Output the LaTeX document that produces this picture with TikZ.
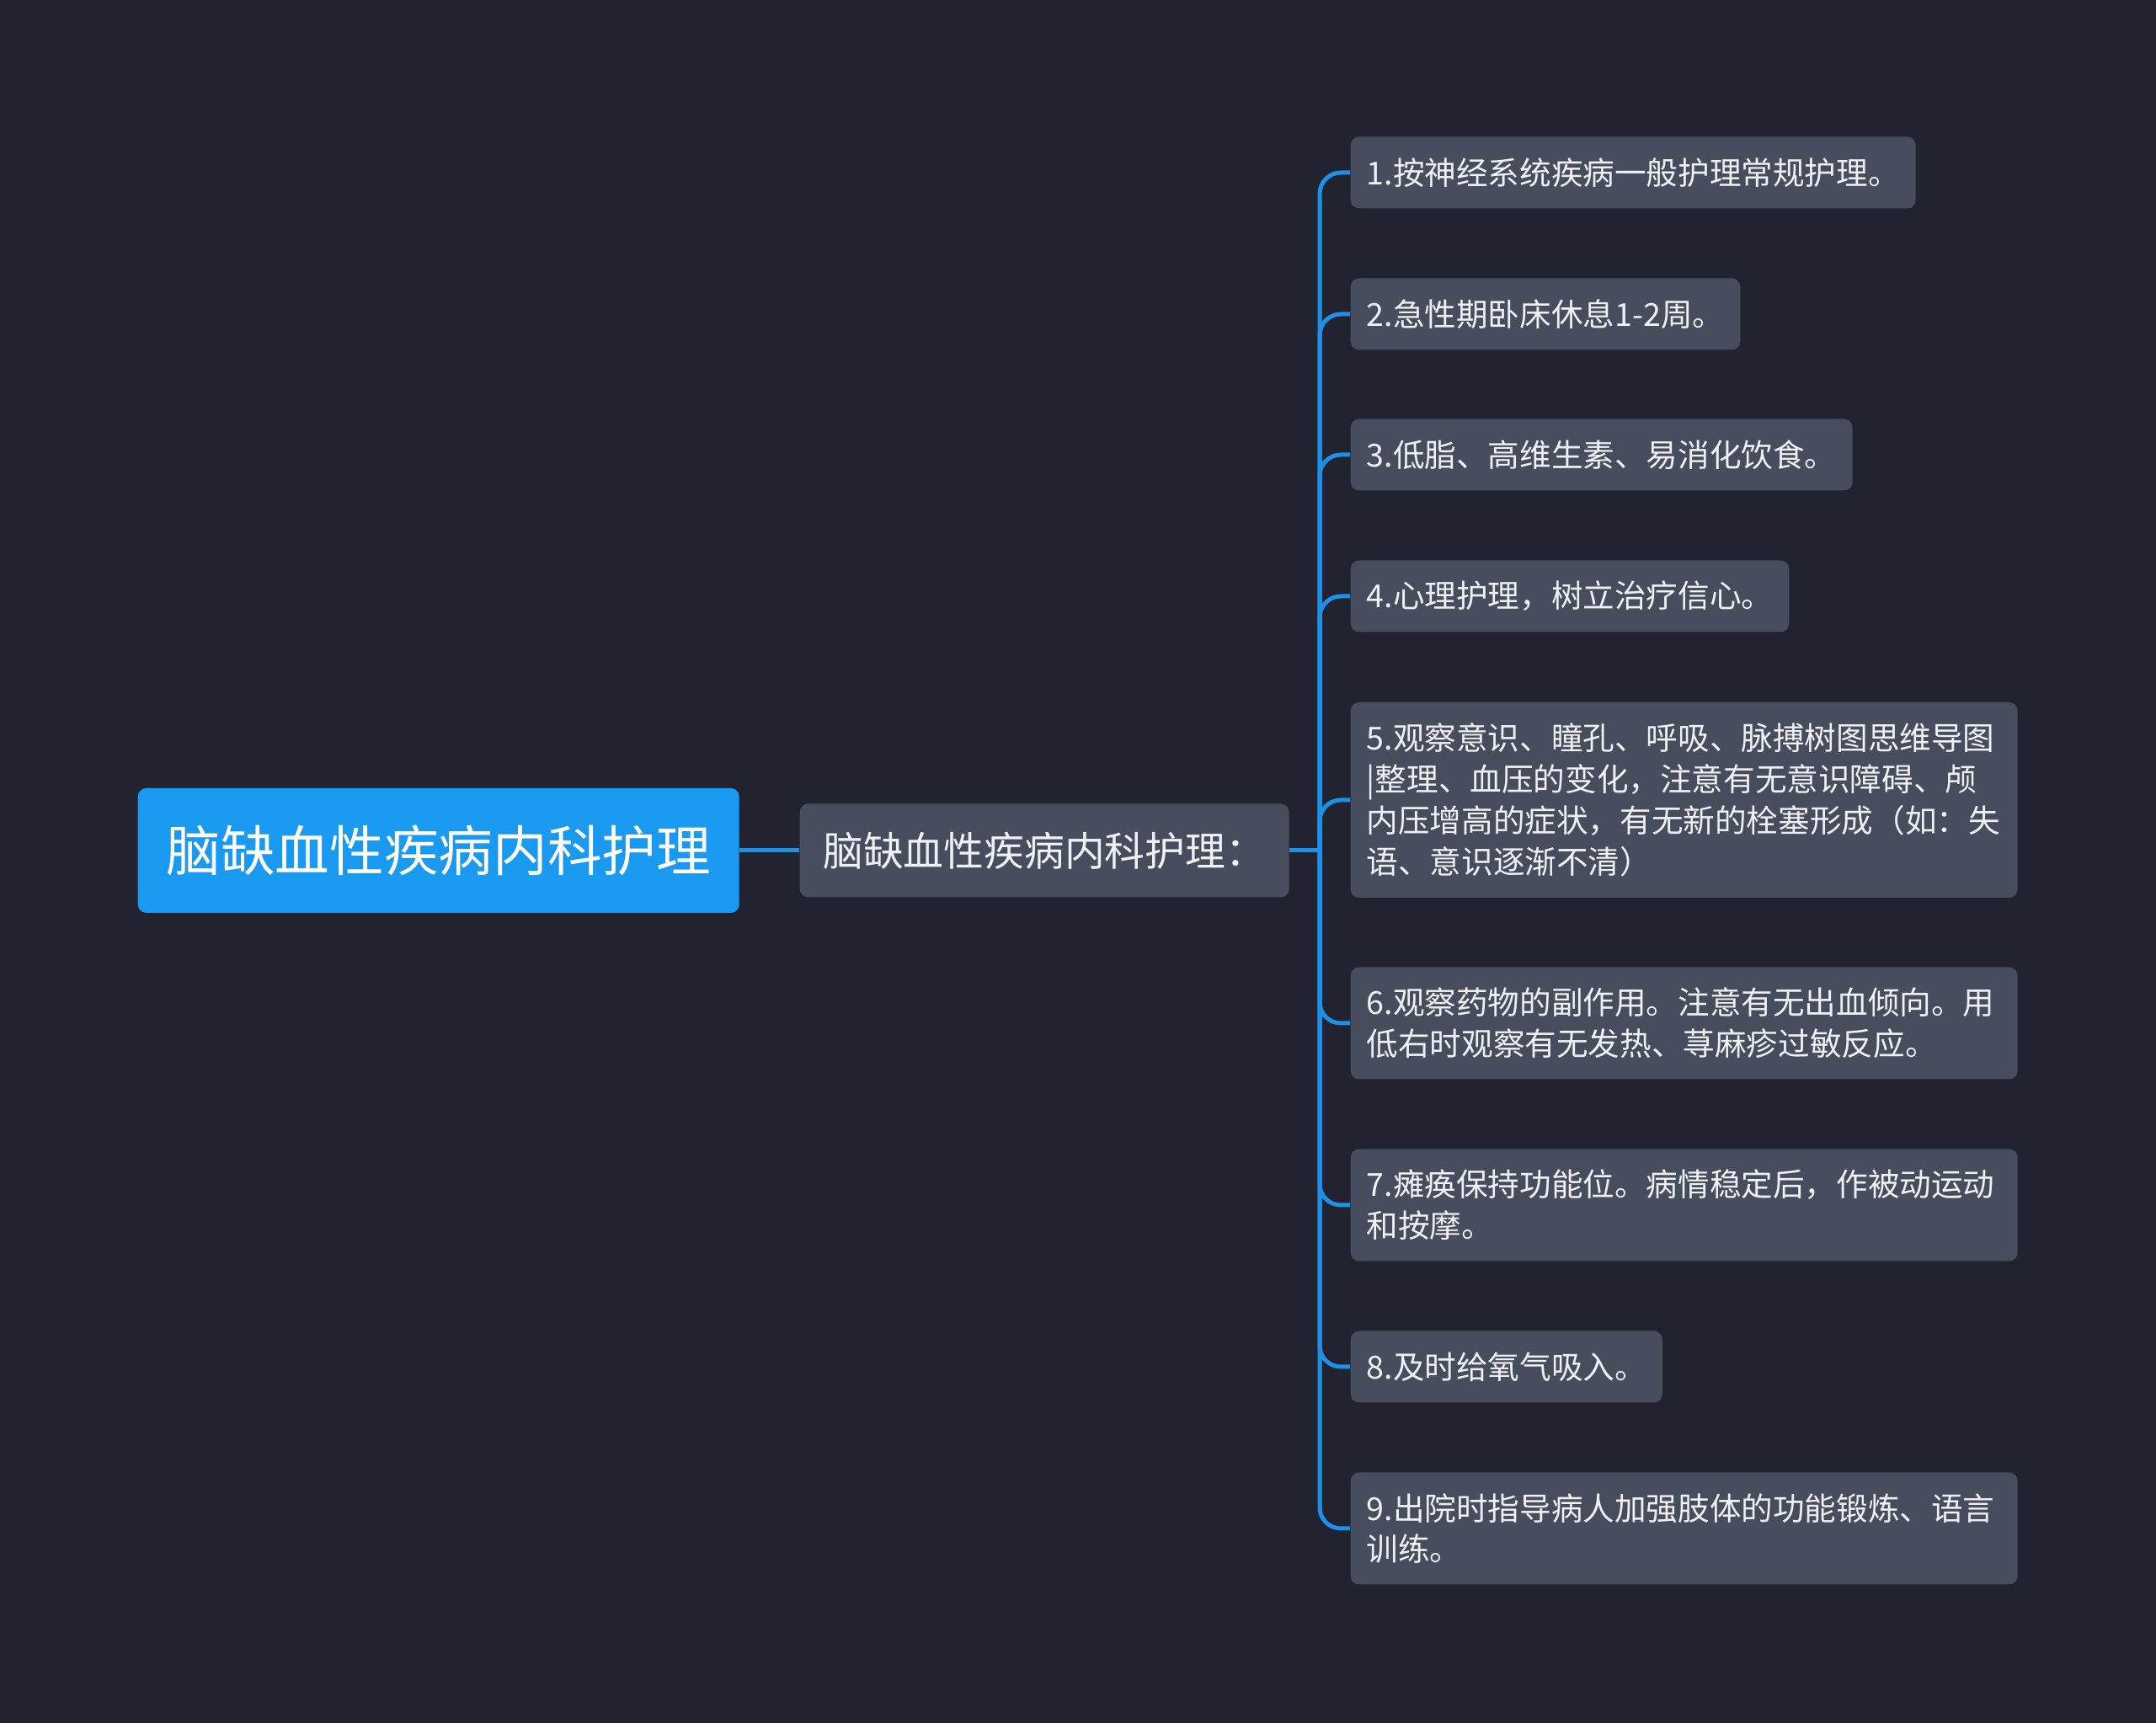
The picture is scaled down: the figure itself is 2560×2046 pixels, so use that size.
\documentclass[tikz,border=0pt]{standalone}
\usepackage{fontspec}
\setmainfont{Noto Sans CJK SC}
\definecolor{bgdark}{RGB}{33,36,48}
\definecolor{boxgray}{RGB}{71,77,92}
\definecolor{rootblue}{RGB}{26,153,240}
\definecolor{lineblue}{RGB}{30,144,232}
\definecolor{txt}{RGB}{238,240,243}
\begin{document}
\begin{tikzpicture}[x=0.1mm, y=-0.1mm,
    main/.style = {fill=rootblue, rounded corners=1mm, text=white, anchor=west, minimum width=71.4mm, minimum height=14.8mm, inner sep=0pt, font=\fontsize{18.4}{22}\selectfont},
    mid/.style = {fill=boxgray, rounded corners=1mm, text=txt, anchor=west, minimum width=58.1mm, minimum height=11.1mm, inner sep=0pt, font=\fontsize{13.6}{16}\selectfont},
    leaf/.style = {fill=boxgray, rounded corners=1mm, text=txt, anchor=west, align=left, inner xsep=1.9mm, inner ysep=0pt, minimum height=8.5mm, font=\fontsize{10.7}{13.9}\selectfont},
    wide/.style = {leaf, text width=75.4mm},
    link/.style = {draw=lineblue, line width=0.5mm, rounded corners=2.5mm}]
    \fill[bgdark] (0,0) rectangle (2560,2046);
    \node[main] (1) at (163,1010) {脑缺血性疾病内科护理};
    \node[mid] (2) at (949,1010) {脑缺血性疾病内科护理：};
    \node[leaf] (3) at (1603,205) {1.按神经系统疾病一般护理常规护理。};
    \node[leaf] (4) at (1603,373) {2.急性期卧床休息1-2周。};
    \node[leaf] (5) at (1603,540) {3.低脂、高维生素、易消化饮食。};
    \node[leaf] (6) at (1603,708) {4.心理护理，树立治疗信心。};
    \node[wide, minimum height=23.2mm] (7) at (1603,950) {5.观察意识、瞳孔、呼吸、脉搏树图思维导图\\|整理、血压的变化，注意有无意识障碍、颅\\内压增高的症状，有无新的栓塞形成（如：失\\语、意识逐渐不清）};
    \node[wide, minimum height=13.3mm] (8) at (1603,1215) {6.观察药物的副作用。注意有无出血倾向。用\\低右时观察有无发热、荨麻疹过敏反应。};
    \node[wide, minimum height=13.3mm] (9) at (1603,1431) {7.瘫痪保持功能位。病情稳定后，作被动运动\\和按摩。};
    \node[leaf] (10) at (1603,1623) {8.及时给氧气吸入。};
    \node[wide, minimum height=13.3mm] (11) at (1603,1815) {9.出院时指导病人加强肢体的功能锻炼、语言\\训练。};
    \coordinate (h) at (1567,1010);
    \draw[link] (1) -- (2);
    \draw[link] (2) -- (h);
    \draw[link] (h) |- (3.west);
    \draw[link] (h) |- (4.west);
    \draw[link] (h) |- (5.west);
    \draw[link] (h) |- (6.west);
    \draw[link] (h) |- (7.west);
    \draw[link] (h) |- (8.west);
    \draw[link] (h) |- (9.west);
    \draw[link] (h) |- (10.west);
    \draw[link] (h) |- (11.west);
\end{tikzpicture}
\end{document}
